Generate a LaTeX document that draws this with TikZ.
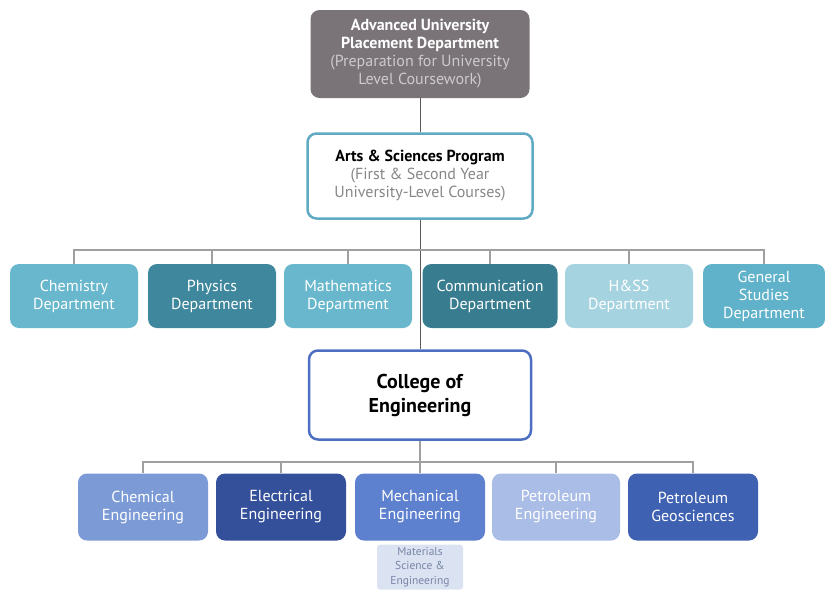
\documentclass[tikz,border=0pt]{standalone}
\usepackage{fontspec}
\setmainfont{PT Sans}
\definecolor{topgray}{RGB}{122,116,121}
\definecolor{subgray}{RGB}{205,202,205}
\definecolor{asgray}{RGB}{135,135,135}
\definecolor{tealline}{RGB}{96,170,196}
\definecolor{tealA}{RGB}{104,183,205}
\definecolor{tealB}{RGB}{62,135,157}
\definecolor{tealC}{RGB}{56,124,143}
\definecolor{tealD}{RGB}{166,211,224}
\definecolor{tealE}{RGB}{95,178,202}
\definecolor{blueline}{RGB}{78,110,196}
\definecolor{blueA}{RGB}{124,155,214}
\definecolor{blueB}{RGB}{53,80,154}
\definecolor{blueC}{RGB}{93,128,207}
\definecolor{blueD}{RGB}{170,189,230}
\definecolor{blueE}{RGB}{63,97,178}
\definecolor{blueF}{RGB}{219,227,243}
\definecolor{matgray}{RGB}{120,132,165}
\definecolor{conn}{RGB}{160,160,160}
\tikzset{
  box/.style={rounded corners=9pt,inner sep=0pt,align=center,
    font=\fontsize{16}{18}\selectfont},
  dept/.style={box,text=white,minimum width=128,minimum height=64},
  engbox/.style={box,text=white,minimum width=130,minimum height=67},
  bus/.style={draw=conn,line width=2.2pt},
  link/.style={draw=gray!70!black,line width=0.8pt}
}
\begin{document}
\begin{tikzpicture}[x=1pt,y=-1pt]
\useasboundingbox (0,0) rectangle (825,590);

\node[box,fill=topgray,minimum width=219,minimum height=88] (aup) at (420,54)
{\textbf{\color{white}Advanced University}\\
\textbf{\color{white}Placement Department}\\
\color{subgray}(Preparation for University\\
\color{subgray}Level Coursework)};

\node[box,fill=white,draw=tealline,line width=2.5pt,
  minimum width=225,minimum height=85] (asp) at (420,176)
{\textbf{Arts \& Sciences Program}\\
\color{asgray}(First \& Second Year\\
\color{asgray}University-Level Courses)};

\node[dept,fill=tealA] (chem) at (74,296) {Chemistry\\Department};
\node[dept,fill=tealB] (phys) at (212,296) {Physics\\Department};
\node[dept,fill=tealA] (math) at (348,296) {Mathematics\\Department};
\node[dept,fill=tealC,minimum width=135] (comm) at (490,296) {Communication\\Department};
\node[dept,fill=tealD] (hss) at (629,296) {H\&SS\\Department};
\node[dept,fill=tealE,minimum width=122] (gs) at (764,296) {General\\Studies\\Department};

\node[box,fill=white,draw=blueline,line width=2.5pt,
  minimum width=222,minimum height=89,
  font=\fontsize{20}{24}\selectfont] (coe) at (420,395)
{\textbf{College of}\\\textbf{Engineering}};

\node[engbox,fill=blueA] (chemE) at (143,507) {Chemical\\Engineering};
\node[engbox,fill=blueB] (elec) at (281,507) {Electrical\\Engineering};
\node[engbox,fill=blueC] (mech) at (420,507) {Mechanical\\Engineering};
\node[engbox,fill=blueD,minimum width=128] (pet) at (556,507) {Petroleum\\Engineering};
\node[engbox,fill=blueE] (geo) at (693,507) {Petroleum\\Geosciences};

\node[box,fill=blueF,rounded corners=3pt,minimum width=86,minimum height=45,
  text=matgray,font=\fontsize{11.5}{14.5}\selectfont] (mat) at (420,567)
{Materials\\Science \&\\Engineering};

\draw[link] (aup) -- (asp);
\draw[link] (asp) -- (coe);

\coordinate (busA) at (420,250);
\draw[bus] (chem.north) |- (busA) -| (gs.north);
\foreach \d in {phys,math,comm,hss}
  \draw[bus] (\d.north) -- (\d.north |- busA);

\coordinate (busB) at (420,462);
\draw[bus] (coe.south) -- (mech.north);
\draw[bus] (chemE.north) |- (busB) -| (geo.north);
\foreach \d in {elec,pet}
  \draw[bus] (\d.north) -- (\d.north |- busB);
\end{tikzpicture}
\end{document}
